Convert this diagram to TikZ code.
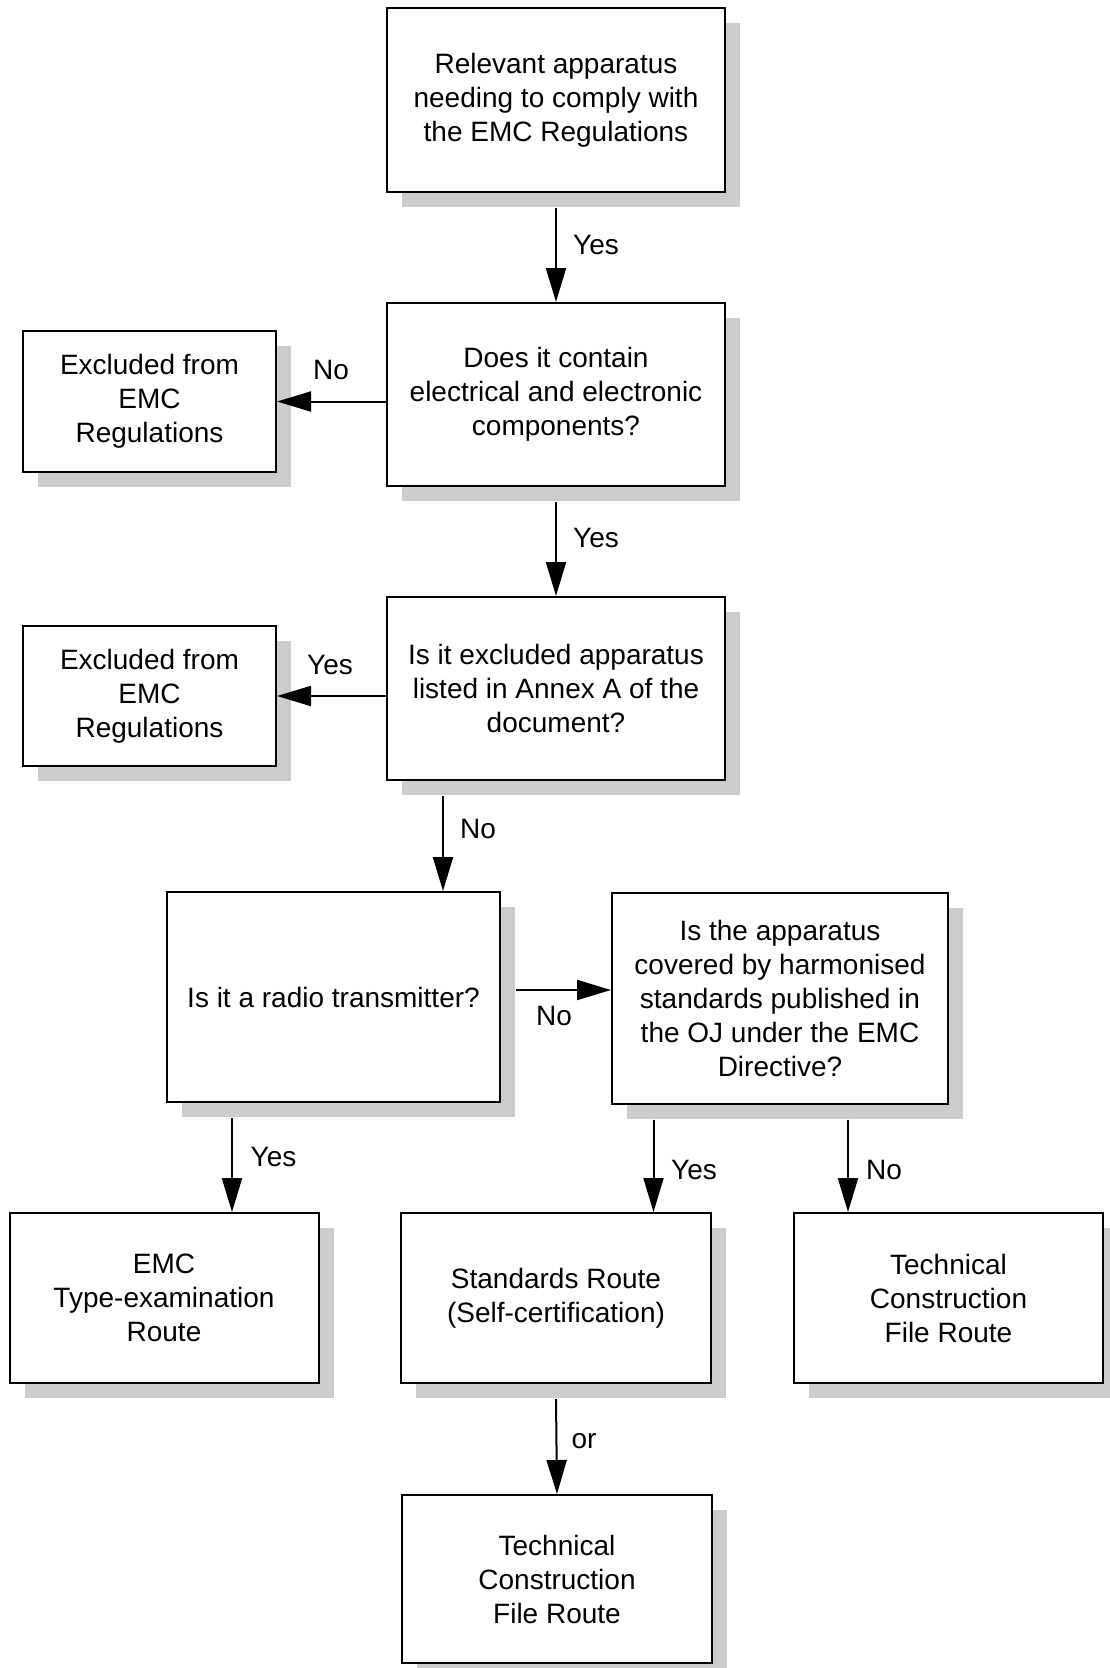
\documentclass[tikz,border=0pt]{standalone}
\usepackage{fontspec}
\setmainfont{Liberation Sans}
\usetikzlibrary{arrows.meta,shadows,calc}

\tikzset{
	box/.style={draw, line width=2pt, fill=white, align=center, inner sep=0pt,
		font=\fontsize{28}{34}\selectfont,
		drop shadow={shadow xshift=15pt, shadow yshift=-15pt, fill=black!20, opacity=1}},
	flow/.style={line width=2pt, -{Triangle[length=34pt,width=20pt]}},
	lbl/.style={font=\fontsize{28}{34}\selectfont, inner sep=0pt}
}

\begin{document}
\begin{tikzpicture}[x=1pt,y=-1pt]
	\fill[white] (0,0) rectangle (1110,1668);
	\useasboundingbox (0,0) rectangle (1110,1668);
	% boxes
	\node[box, minimum width=338pt, minimum height=184pt] (start) at (556,100) {Relevant apparatus\\needing to comply with\\the EMC Regulations};
	\node[box, minimum width=338pt, minimum height=183pt] (q1) at (556,394.5) {Does it contain\\electrical and electronic\\components?};
	\node[box, minimum width=253pt, minimum height=141pt] (excl1) at (149.5,401.5) {Excluded from\\EMC\\Regulations};
	\node[box, minimum width=338pt, minimum height=183pt] (q2) at (556,688.5) {Is it excluded apparatus\\listed in Annex A of the\\document?};
	\node[box, minimum width=253pt, minimum height=140pt] (excl2) at (149.5,696) {Excluded from\\EMC\\Regulations};
	\node[box, minimum width=333pt, minimum height=210pt] (radio) at (333.5,997) {Is it a radio transmitter?};
	\node[box, minimum width=336pt, minimum height=211pt] (harm) at (780,998) {Is the apparatus\\covered by harmonised\\standards published in\\the OJ under the EMC\\Directive?};
	\node[box, minimum width=309pt, minimum height=170pt] (emc) at (164,1298) {EMC\\Type-examination\\Route};
	\node[box, minimum width=310pt, minimum height=170pt] (std) at (556,1298) {Standards Route\\(Self-certification)};
	\node[box, minimum width=309pt, minimum height=170pt] (tcfa) at (948.5,1298) {Technical\\Construction\\File Route};
	\node[box, minimum width=310pt, minimum height=168pt] (tcfb) at (557,1579) {Technical\\Construction\\File Route};
	% connectors
	\draw[flow] ([yshift=-15pt]start.south) -- (q1.north);
	\draw[flow] (q1.west |- excl1.east) -- (excl1.east);
	\draw[flow] ([yshift=-15pt]q1.south) -- (q2.north);
	\draw[flow] (q2.west |- excl2.east) -- (excl2.east);
	\draw[flow] ($(q2.south)+(-113,15)$) coordinate (q2out) -- (q2out |- radio.north);
	\draw[flow] ($(radio.east)+(15,-7)$) coordinate (rdno) -- (rdno -| harm.west);
	\draw[flow] ($(radio.south)+(-101.5,15)$) coordinate (rdyes) -- (rdyes |- emc.north);
	\draw[flow] ($(harm.south)+(-126.5,15)$) coordinate (hmyes) -- (hmyes |- std.north);
	\draw[flow] ($(harm.south)+(68,15)$) coordinate (hmno) -- (hmno |- tcfa.north);
	\draw[flow] ([yshift=-15pt]std.south) -- (tcfb.north);
	% labels
	\node[lbl] (l1) at (596,245) {Yes};
	\node[lbl] (l2) at (331,370) {No};
	\node[lbl] (l3) at (596,538) {Yes};
	\node[lbl] (l4) at (330,665) {Yes};
	\node[lbl] (l5) at (478,829) {No};
	\node[lbl] (l6) at (554,1016) {No};
	\node[lbl] (l7) at (273.5,1157) {Yes};
	\node[lbl] (l8) at (694,1170) {Yes};
	\node[lbl] (l9) at (884,1170) {No};
	\node[lbl] (l10) at (584,1441) {or};
\end{tikzpicture}
\end{document}
